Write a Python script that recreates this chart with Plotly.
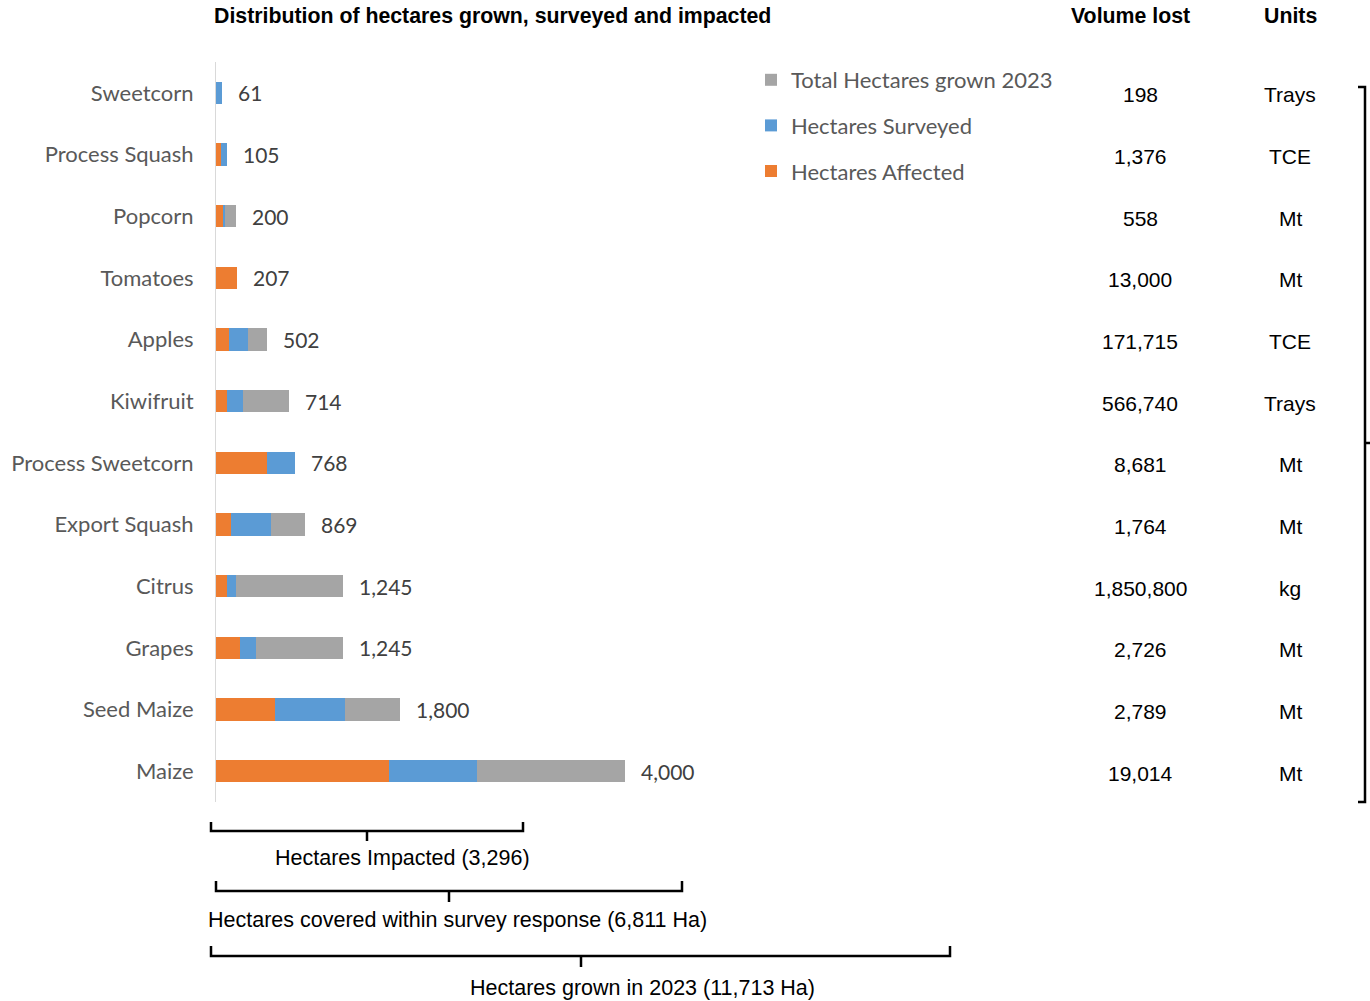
import plotly.graph_objects as go

# Crops, top to bottom
crops = ["Sweetcorn", "Process Squash", "Popcorn", "Tomatoes", "Apples", "Kiwifruit",
         "Process Sweetcorn", "Export Squash", "Citrus", "Grapes", "Seed Maize", "Maize"]

# Hectares per crop
total_grown = [61, 105, 200, 207, 502, 714, 768, 869, 1245, 1245, 1800, 4000]
surveyed = [61, 105, 90, 207, 310, 260, 768, 535, 200, 395, 1260, 2550]
affected = [0, 52, 70, 207, 130, 105, 502, 150, 105, 230, 580, 1690]

# Volume lost per crop and its unit
volume_lost = ["198", "1,376", "558", "13,000", "171,715", "566,740",
               "8,681", "1,764", "1,850,800", "2,726", "2,789", "19,014"]
units = ["Trays", "TCE", "Mt", "Mt", "TCE", "Trays", "Mt", "Mt", "kg", "Mt", "Mt", "Mt"]

GRAY, BLUE, ORANGE = "#A5A5A5", "#5B9BD5", "#ED7D31"
LABEL_FONT = "Lato, 'Open Sans', sans-serif"
ARIAL = "'Liberation Sans', Arial, sans-serif"

# page geometry (pixels)
FIG_W, FIG_H = 1370, 1001
M_L, M_R, M_T, M_B = 216, 0, 62, 199
PLOT_W = FIG_W - M_L - M_R
PLOT_H = FIG_H - M_T - M_B


def px_x(px):
    return (px - M_L) / PLOT_W


def px_y(py):
    return (FIG_H - M_B - py) / PLOT_H


fig = go.Figure()
series = [("Total Hectares grown 2023", total_grown, GRAY),
          ("Hectares Surveyed", surveyed, BLUE),
          ("Hectares Affected", affected, ORANGE)]
for name, vals, col in series:
    fig.add_trace(go.Bar(
        y=crops, x=vals, orientation="h", name=name, width=0.36,
        marker=dict(color=col, line=dict(width=0)),
        legendgroup=name, hoverinfo="x+name",
    ))

annotations = []
# total value beside each bar
for c, v in zip(crops, total_grown):
    annotations.append(dict(x=v, y=c, xref="x", yref="y", text=f"{v:,}",
                            showarrow=False, xanchor="left", xshift=14,
                            font=dict(family=LABEL_FONT, size=21, color="#404040")))

# volume lost and unit columns
for c, v, u in zip(crops, volume_lost, units):
    annotations.append(dict(x=px_x(1140), y=c, xref="paper", yref="y", text=v,
                            showarrow=False, xanchor="center", yshift=-2,
                            font=dict(family=ARIAL, size=21, color="#000000")))
    annotations.append(dict(x=px_x(1290), y=c, xref="paper", yref="y", text=u,
                            showarrow=False, xanchor="center", yshift=-2,
                            font=dict(family=ARIAL, size=21, color="#000000")))

# headers
headers = [("Distribution of hectares grown, surveyed and impacted", 212, "left"),
           ("Volume lost", 1130, "center"),
           ("Units", 1290, "center")]
for txt, x, anc in headers:
    annotations.append(dict(x=px_x(x), y=px_y(16), xref="paper", yref="paper",
                            text=f"<b>{txt}</b>", showarrow=False, xanchor=anc,
                            yanchor="middle",
                            font=dict(family=ARIAL, size=21.3, color="#000000")))

# bracket captions
captions = [("Hectares Impacted (3,296)", 402, 858),
            ("Hectares covered within survey response (6,811 Ha)", 457, 920),
            ("Hectares grown in 2023 (11,713 Ha)", 642, 988)]
for txt, x, y in captions:
    annotations.append(dict(x=px_x(x), y=px_y(y), xref="paper", yref="paper",
                            text=txt, showarrow=False, xanchor="center",
                            yanchor="middle",
                            font=dict(family=ARIAL, size=21.5, color="#000000")))

shapes = []
line = dict(color="#000000", width=2.5)


def bracket(x0, x1, y_top, y_bar, stem_x, y_stem):
    pts = [(x0, y_top), (x0, y_bar), (x1, y_bar), (x1, y_top)]
    path = "M " + " L ".join(f"{px_x(a)},{px_y(b)}" for a, b in pts)
    shapes.append(dict(type="path", xref="paper", yref="paper", path=path, line=line))
    shapes.append(dict(type="line", xref="paper", yref="paper",
                       x0=px_x(stem_x), x1=px_x(stem_x), y0=px_y(y_bar), y1=px_y(y_stem),
                       line=line))


bracket(211, 523, 822, 831, 367, 841)
bracket(216, 682, 881, 891, 449, 902)
bracket(211, 950, 946, 956, 581, 967)

# right-hand bracket spanning all rows
rpts = [(1358, 87), (1365, 87), (1365, 802), (1358, 802)]
shapes.append(dict(type="path", xref="paper", yref="paper",
                   path="M " + " L ".join(f"{px_x(a)},{px_y(b)}" for a, b in rpts),
                   line=line))
shapes.append(dict(type="line", xref="paper", yref="paper",
                   x0=px_x(1365), x1=px_x(1370), y0=px_y(443), y1=px_y(443), line=line))

fig.update_layout(
    width=FIG_W, height=FIG_H,
    margin=dict(l=M_L, r=M_R, t=M_T, b=M_B, pad=0),
    paper_bgcolor="white", plot_bgcolor="white",
    barmode="overlay", bargap=0,
    showlegend=True,
    legend=dict(x=px_x(751), y=px_y(59), xanchor="left", yanchor="top",
                traceorder="grouped", tracegroupgap=14,
                font=dict(family=LABEL_FONT, size=22, color="#595959"),
                bgcolor="rgba(0,0,0,0)"),
    xaxis=dict(range=[0, PLOT_W / 0.10225], visible=False, showgrid=False, zeroline=False),
    yaxis=dict(type="category", categoryorder="array", categoryarray=crops,
               autorange="reversed", showgrid=False, zeroline=False,
               showline=True, linecolor="#D9D9D9", linewidth=1,
               ticks="", ticklabelstandoff=17,
               tickfont=dict(family=LABEL_FONT, size=22, color="#595959")),
    annotations=annotations,
    shapes=shapes,
)

fig.write_html("out.html")
